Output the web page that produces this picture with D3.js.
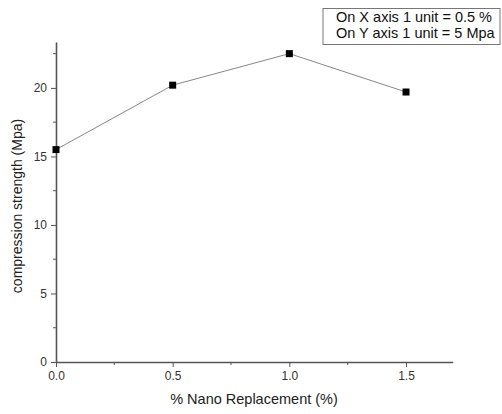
<!DOCTYPE html>
<html lang="en">
<head>
<meta charset="UTF-8">
<title>Compression strength</title>
<style>
  body { margin: 0; background: #fff; }
  svg { display: block; font-family: "Liberation Sans", Arial, sans-serif; }
  .axis path, .axis line { stroke: #555; }
  .axis text { fill: #333; font-size: 12px; }
</style>
</head>
<body>
<svg width="502" height="414"></svg>
<script src="https://cdnjs.cloudflare.com/ajax/libs/d3/7.8.5/d3.min.js"></script>
<script>
// data
var replacement = [0.0, 0.5, 1.0, 1.5];
var strength = [15.5, 20.2, 22.5, 19.7];
var xTicks = [0.0, 0.5, 1.0, 1.5];
var xMinor = [0.25, 0.75, 1.25];
var yTicks = [0, 5, 10, 15, 20];
var yMinor = [2.5, 7.5, 12.5, 17.5, 22.5];
var legendLines = ["On X axis 1 unit = 0.5 %", "On Y axis 1 unit = 5 Mpa"];

var svg = d3.select("svg");

var x = d3.scaleLinear().domain([0, 1.7]).range([56, 452.7]);
var y = d3.scaleLinear().domain([0, 23.35]).range([362, 42]);

// x axis
var gx = svg.append("g").attr("class", "axis")
    .attr("transform", "translate(0," + y(0) + ")");
gx.call(d3.axisBottom(x).tickValues(xTicks).tickFormat(d3.format(".1f"))
    .tickSizeInner(5).tickSizeOuter(0).tickPadding(4));
gx.selectAll("g.minor").data(xMinor).enter().append("line")
    .attr("x1", function(d) { return x(d); }).attr("x2", function(d) { return x(d); })
    .attr("y1", 0).attr("y2", 3).attr("stroke", "#555");
gx.select("path").attr("stroke-width", 1.6);

// y axis
var gy = svg.append("g").attr("class", "axis")
    .attr("transform", "translate(" + x(0) + ",0)");
gy.call(d3.axisLeft(y).tickValues(yTicks).tickFormat(d3.format("d"))
    .tickSizeInner(5).tickSizeOuter(0).tickPadding(4));
gy.selectAll("g.minor").data(yMinor).enter().append("line")
    .attr("y1", function(d) { return y(d); }).attr("y2", function(d) { return y(d); })
    .attr("x1", 0).attr("x2", -3).attr("stroke", "#555");
gy.select("path").attr("stroke-width", 1.6);

// axis titles
svg.append("text")
    .attr("x", 254).attr("y", 404)
    .attr("text-anchor", "middle").attr("font-size", 14.5).attr("fill", "#222")
    .text("% Nano Replacement (%)");
svg.append("text")
    .attr("transform", "translate(22,206) rotate(-90)")
    .attr("text-anchor", "middle").attr("font-size", 14).attr("fill", "#222")
    .text("compression strength (Mpa)");

// line and markers
var pts = replacement.map(function(v, i) { return [v, strength[i]]; });
svg.append("path")
    .datum(pts)
    .attr("fill", "none").attr("stroke", "#888").attr("stroke-width", 1)
    .attr("d", d3.line().x(function(d) { return x(d[0]); }).y(function(d) { return y(d[1]); }));
svg.selectAll("rect.pt").data(pts).enter().append("rect")
    .attr("class", "pt")
    .attr("x", function(d) { return x(d[0]) - 3.5; })
    .attr("y", function(d) { return y(d[1]) - 3.5; })
    .attr("width", 7).attr("height", 7).attr("fill", "#000");

// legend box
var lg = svg.append("g");
lg.append("rect").attr("x", 323).attr("y", 8.5).attr("width", 177).attr("height", 36)
    .attr("fill", "#fff").attr("stroke", "#777").attr("stroke-width", 1);
lg.selectAll("text").data(legendLines).enter().append("text")
    .attr("x", 336).attr("y", function(d, i) { return 22 + i * 16; })
    .attr("font-size", 14.5).attr("fill", "#111")
    .text(function(d) { return d; });
</script>
</body>
</html>
